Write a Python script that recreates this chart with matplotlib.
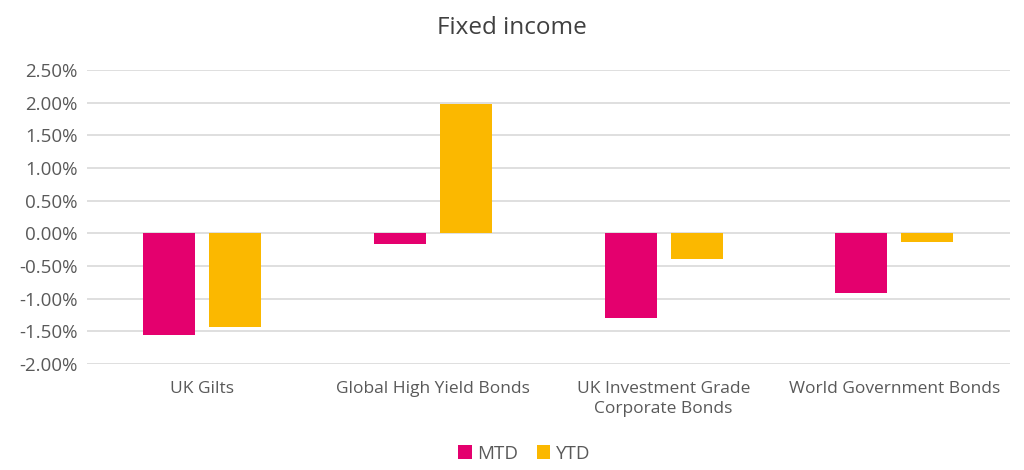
import numpy as np
import matplotlib.pyplot as plt
from matplotlib.ticker import FuncFormatter

categories = ['UK Gilts', 'Global High Yield Bonds',
              'UK Investment Grade\nCorporate Bonds', 'World Government Bonds']
mtd = [-1.55, -0.17, -1.30, -0.91]
ytd = [-1.44, 1.98, -0.40, -0.13]

pink = '#E4006E'
gold = '#FBB800'
grey = '#595959'

plt.rcParams['font.family'] = ['Open Sans', 'DejaVu Sans']

fig = plt.figure(figsize=(10.24, 4.7), dpi=100)
ax = fig.add_axes([0.085, 0.2255, 0.901, 0.6255])

x = np.arange(len(categories))
w = 0.225
off = 0.143
ax.bar(x - off, mtd, w, color=pink, label='MTD', zorder=3)
ax.bar(x + off, ytd, w, color=gold, label='YTD', zorder=3)

ax.set_xlim(-0.5, len(categories) - 0.5)
ax.set_ylim(-2.0, 2.5)
ax.set_yticks(np.arange(-2.0, 2.51, 0.5))
ax.yaxis.set_major_formatter(FuncFormatter(lambda v, p: f'{v:.2f}%'))
ax.set_xticks(x)
ax.set_xticklabels(categories, fontsize=12.5, color=grey, linespacing=1.4)
ax.tick_params(axis='y', labelsize=13.5, colors=grey, length=0, pad=7)
ax.tick_params(axis='x', length=0, pad=12)
ax.grid(axis='y', color='#D9D9D9', linewidth=1.2, zorder=0)
for s in ax.spines.values():
    s.set_visible(False)

fig.suptitle('Fixed income', fontsize=17.5, color='#404040', y=0.965)
fig.legend(loc='lower center', ncol=2, frameon=False, fontsize=13.5,
           bbox_to_anchor=(0.512, -0.02), handlelength=0.7, handleheight=0.7,
           columnspacing=1.0, handletextpad=0.3, labelcolor=grey)

fig.savefig('out.png', dpi=100)
